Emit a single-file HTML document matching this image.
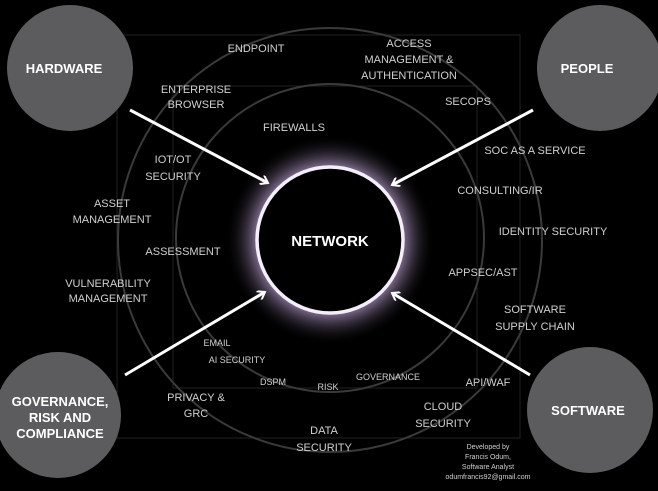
<!DOCTYPE html>
<html><head><style>
body{margin:0;background:#000;}
svg text{font-family:"Liberation Sans",sans-serif;fill:#d0d0d0;}
</style></head><body>
<svg width="658" height="486" viewBox="0 0 658 486" xmlns="http://www.w3.org/2000/svg">
<defs>
<radialGradient id="g" cx="330" cy="240" r="105" gradientUnits="userSpaceOnUse">
<stop offset="0.5" stop-color="#000"/>
<stop offset="0.7" stop-color="#a890bc" stop-opacity="0.75"/>
<stop offset="1" stop-color="#000" stop-opacity="0"/>
</radialGradient>
<marker id="a" markerWidth="10" markerHeight="10" refX="8" refY="5" orient="auto" markerUnits="userSpaceOnUse">
<path d="M1,0 L8,5 L1,10" fill="none" stroke="#fff" stroke-width="2"/>
</marker>
</defs>
<rect width="658" height="486" fill="#000"/>
<rect x="117" y="35" width="403" height="403" fill="none" stroke="#222" stroke-width="1"/>
<rect x="173" y="86" width="304" height="302" fill="none" stroke="#222" stroke-width="1"/>
<circle cx="330" cy="240" r="212" fill="none" stroke="#3a3a3a" stroke-width="2"/>
<circle cx="330" cy="238" r="154" fill="none" stroke="#3a3a3a" stroke-width="2"/>
<circle cx="330" cy="240" r="105" fill="url(#g)"/>
<circle cx="330" cy="240" r="73" fill="#000" stroke="#f4eef8" stroke-width="3.5"/>
<text x="330" y="246" text-anchor="middle" font-size="15" font-weight="bold" style="fill:#fff">NETWORK</text>
<circle cx="70" cy="68" r="63" fill="#5c5c5e"/>
<circle cx="600" cy="68" r="63" fill="#5c5c5e"/>
<circle cx="58" cy="415" r="63" fill="#5c5c5e"/>
<circle cx="590" cy="410" r="63" fill="#5c5c5e"/>
<g font-weight="bold" font-size="13" text-anchor="middle">
<text x="64" y="73" style="fill:#fff">HARDWARE</text>
<text x="587" y="73" style="fill:#fff">PEOPLE</text>
<text x="60" y="406" style="fill:#fff">GOVERNANCE,</text>
<text x="60" y="422" style="fill:#fff">RISK AND</text>
<text x="60" y="438" style="fill:#fff">COMPLIANCE</text>
<text x="588" y="415" style="fill:#fff">SOFTWARE</text>
</g>
<g stroke="#fff" stroke-width="3" marker-end="url(#a)">
<line x1="130" y1="110" x2="268" y2="183"/>
<line x1="533" y1="110" x2="392" y2="185"/>
<line x1="125" y1="375" x2="265" y2="292"/>
<line x1="530" y1="375" x2="392" y2="293"/>
</g>
<g font-size="11" text-anchor="middle">
<text x="256" y="52">ENDPOINT</text>
<text x="409" y="47">ACCESS</text>
<text x="409" y="63">MANAGEMENT &amp;</text>
<text x="409" y="79">AUTHENTICATION</text>
<text x="196" y="93">ENTERPRISE</text>
<text x="196" y="108">BROWSER</text>
<text x="468" y="105">SECOPS</text>
<text x="294" y="131">FIREWALLS</text>
<text x="173" y="163">IOT/OT</text>
<text x="173" y="180">SECURITY</text>
<text x="535" y="154">SOC AS A SERVICE</text>
<text x="500" y="194">CONSULTING/IR</text>
<text x="112" y="207">ASSET</text>
<text x="112" y="223">MANAGEMENT</text>
<text x="553" y="235">IDENTITY SECURITY</text>
<text x="183" y="255">ASSESSMENT</text>
<text x="483" y="276">APPSEC/AST</text>
<text x="108" y="287">VULNERABILITY</text>
<text x="108" y="302">MANAGEMENT</text>
<text x="535" y="313">SOFTWARE</text>
<text x="535" y="330">SUPPLY CHAIN</text>
<text x="196" y="401">PRIVACY &amp;</text>
<text x="196" y="417">GRC</text>
<text x="443" y="410">CLOUD</text>
<text x="443" y="427">SECURITY</text>
<text x="324" y="434">DATA</text>
<text x="324" y="451">SECURITY</text>
<text x="488" y="386">API/WAF</text>
</g>
<g font-size="9" text-anchor="middle">
<text x="217" y="346">EMAIL</text>
<text x="237" y="363">AI SECURITY</text>
<text x="273" y="385">DSPM</text>
<text x="328" y="390">RISK</text>
<text x="388" y="380">GOVERNANCE</text>
</g>
<g font-size="7" text-anchor="middle">
<text x="488" y="449">Developed by</text>
<text x="488" y="459">Francis Odum,</text>
<text x="488" y="469">Software Analyst</text>
<text x="488" y="479">odumfrancis92@gmail.com</text>
</g>
</svg>
</body></html>
